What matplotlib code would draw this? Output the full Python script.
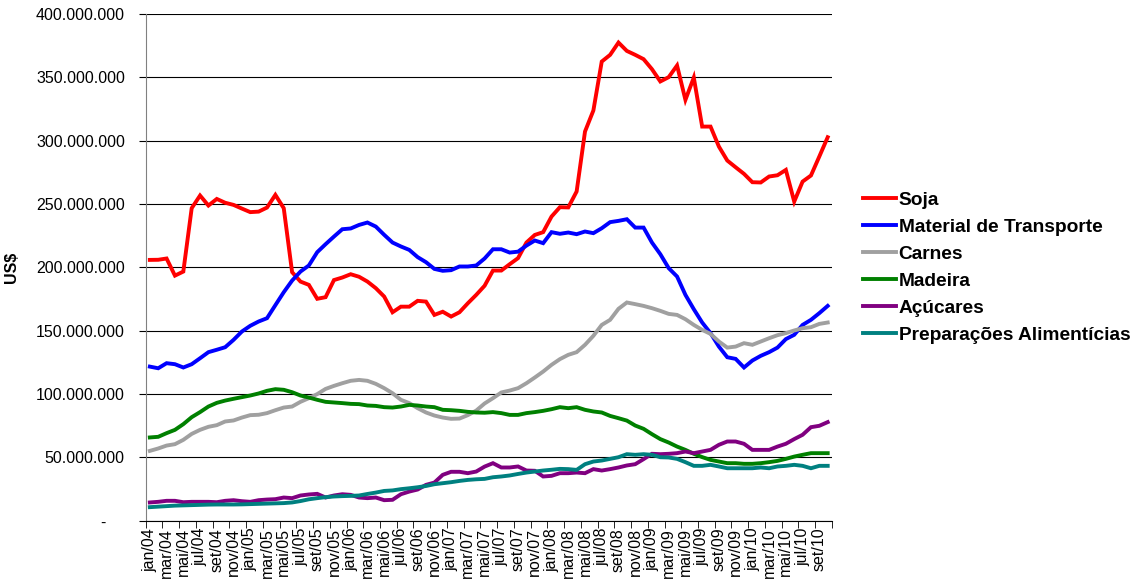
import matplotlib
matplotlib.use("Agg")
import matplotlib.pyplot as plt
from matplotlib.ticker import FuncFormatter, FixedLocator
import numpy as np

plt.rcParams['font.family'] = ['Liberation Sans', 'DejaVu Sans']

# meses jan/04 .. out/10
meses = ['jan', 'fev', 'mar', 'abr', 'mai', 'jun', 'jul', 'ago', 'set', 'out', 'nov', 'dez']
anos = ['04', '05', '06', '07', '08', '09', '10']
categorias = [m + '/' + a for a in anos for m in meses][:82]

# valores em milhoes de US$
soja = [205.9, 206.0, 207.0, 193.5, 196.7, 246.7, 256.7, 248.8, 254.0, 251.0,
        249.3, 246.4, 243.6, 244.0, 247.2, 257.2, 246.7, 196.2, 188.8, 186.2,
        175.2, 176.5, 190.0, 192.0, 194.6, 192.6, 188.8, 183.6, 177.0, 164.6,
        169.0, 169.0, 173.6, 173.0, 162.5, 165.0, 161.2, 164.6, 171.7, 178.3,
        185.5, 197.5, 197.5, 202.5, 207.3, 219.6, 225.6, 227.8, 240.1, 247.5,
        247.3, 259.9, 307.2, 323.8, 362.4, 367.7, 377.4, 370.8, 367.7, 364.3,
        356.4, 346.7, 350.1, 359.3, 332.2, 349.8, 311.1, 311.1, 295.3, 284.3,
        279.0, 273.8, 267.2, 267.0, 271.7, 272.7, 276.9, 251.9, 267.7, 272.5,
        287.5, 302.7]
transporte = [121.7, 120.4, 124.4, 123.6, 121.0, 123.6, 128.3, 133.1, 135.0, 137.0,
              142.8, 149.4, 153.9, 157.3, 159.9, 170.2, 180.4, 189.6, 196.7, 201.5,
              212.0, 218.3, 224.3, 230.1, 230.7, 233.5, 235.4, 232.2, 225.7, 219.6,
              216.5, 213.8, 208.1, 204.1, 198.8, 197.3, 197.8, 200.7, 200.7, 201.5,
              207.0, 214.3, 214.3, 211.7, 212.4, 217.2, 221.2, 219.1, 227.8, 226.5,
              227.5, 226.2, 228.3, 227.0, 230.9, 235.7, 236.7, 238.0, 231.4, 231.4,
              219.6, 210.4, 199.4, 192.8, 178.3, 167.0, 156.5, 148.1, 137.5, 129.1,
              127.8, 121.0, 126.5, 130.2, 133.1, 136.7, 143.4, 146.8, 154.6, 158.6,
              163.9, 169.6]
carnes = [55.2, 57.1, 59.4, 60.5, 63.9, 68.6, 71.8, 74.2, 75.5, 78.4,
          79.2, 81.5, 83.4, 83.7, 85.0, 87.3, 89.4, 90.2, 93.9, 96.8,
          100.0, 104.1, 106.5, 108.6, 110.5, 111.2, 110.5, 108.1, 104.7, 100.7,
          95.5, 92.9, 88.9, 85.5, 83.1, 81.5, 80.5, 80.7, 83.4, 87.0,
          92.6, 96.8, 101.3, 102.8, 104.7, 108.6, 113.1, 117.8, 123.1, 127.6,
          131.0, 133.1, 138.9, 146.0, 154.6, 158.6, 167.3, 172.3, 171.0, 169.6,
          167.8, 165.7, 163.3, 162.5, 159.1, 154.6, 150.7, 147.5, 141.5, 136.7,
          137.5, 140.2, 138.9, 141.5, 144.1, 146.5, 148.1, 150.2, 152.0, 152.8,
          155.4, 156.5]
madeira = [65.8, 66.3, 69.2, 71.8, 76.3, 81.8, 85.8, 90.2, 93.1, 94.9,
           96.3, 97.6, 98.9, 100.5, 102.6, 103.9, 103.4, 101.5, 98.9, 97.3,
           95.5, 93.9, 93.4, 92.9, 92.3, 92.1, 91.0, 90.7, 89.7, 89.4,
           90.2, 91.5, 91.0, 90.2, 89.7, 87.6, 87.3, 86.8, 86.0, 85.5,
           85.3, 85.8, 85.0, 83.6, 83.6, 85.0, 85.8, 86.8, 88.1, 89.7,
           88.9, 89.7, 87.6, 86.3, 85.5, 82.8, 81.0, 79.1, 75.2, 72.6,
           68.4, 64.5, 61.8, 58.6, 56.0, 52.9, 50.3, 48.1, 46.8, 45.5,
           45.5, 45.0, 45.0, 45.5, 46.3, 47.3, 48.9, 50.7, 52.1, 53.4,
           53.4, 53.4]
acucares = [14.5, 15.0, 15.8, 15.8, 14.7, 15.0, 15.0, 15.0, 14.7, 15.8,
            16.3, 15.5, 15.0, 16.3, 16.8, 17.1, 18.4, 17.9, 20.0, 20.8,
            21.3, 18.4, 20.0, 21.0, 20.5, 18.4, 17.9, 18.4, 16.3, 16.6,
            21.0, 23.1, 24.7, 28.4, 30.2, 36.3, 38.7, 38.7, 37.6, 38.9,
            42.8, 45.5, 42.1, 42.1, 42.9, 39.7, 39.5, 35.0, 35.5, 37.6,
            37.6, 38.1, 37.6, 40.8, 39.7, 40.8, 42.1, 43.7, 44.7, 48.7,
            52.9, 52.6, 52.9, 53.4, 54.7, 53.4, 54.7, 56.0, 60.0, 62.6,
            62.6, 60.8, 56.0, 56.0, 56.0, 58.6, 60.8, 64.5, 67.9, 73.9,
            75.0, 77.9]
preparacoes = [10.8, 11.2, 11.6, 12.0, 12.2, 12.4, 12.6, 12.8, 12.9, 12.9,
               12.9, 13.0, 13.2, 13.4, 13.6, 13.8, 14.0, 14.5, 15.6, 17.0,
               17.9, 18.7, 19.2, 19.5, 19.7, 20.0, 21.2, 22.3, 23.6, 24.0,
               25.0, 25.7, 26.5, 27.5, 28.9, 29.7, 30.5, 31.5, 32.3, 32.8,
               33.1, 34.4, 35.0, 35.8, 37.0, 38.1, 38.9, 39.7, 40.3, 41.0,
               40.8, 40.2, 44.7, 46.8, 47.6, 48.9, 50.2, 52.6, 52.1, 52.6,
               52.1, 50.2, 50.0, 48.9, 46.3, 43.4, 43.4, 44.2, 42.9, 41.5,
               41.5, 41.5, 41.5, 42.1, 41.5, 42.9, 43.4, 44.2, 43.4, 41.5,
               43.4, 43.4]

series = [
    ('Soja', soja, '#FF0000'),
    ('Material de Transporte', transporte, '#0000FF'),
    ('Carnes', carnes, '#A0A0A0'),
    ('Madeira', madeira, '#008000'),
    ('Açúcares', acucares, '#800080'),
    ('Preparações Alimentícias', preparacoes, '#008080'),
]

fig = plt.figure(figsize=(11.38, 5.8), dpi=100)
ax = fig.add_axes([0.128, 0.102, 0.603, 0.874])

x = np.arange(len(categorias))
for nome, vals, cor in series:
    ax.plot(x, np.array(vals) * 1e6, color=cor, lw=2.8, label=nome,
            solid_joinstyle='miter')

ax.set_xlim(-0.5, len(categorias) - 0.5)
ax.set_ylim(0, 400e6)
ax.set_yticks(np.arange(0, 400e6 + 1, 50e6))

def fmt(v, pos):
    if v == 0:
        return '-    '
    return '{:,.0f}'.format(v).replace(',', '.')

ax.yaxis.set_major_formatter(FuncFormatter(fmt))
ax.yaxis.grid(True, color='black', lw=0.8)
ax.set_axisbelow(True)

# rotulos a cada 2 meses, marcas entre categorias
ax.set_xticks(x[::2])
ax.set_xticklabels(categorias[::2], rotation=90)
ax.xaxis.set_minor_locator(FixedLocator(np.arange(-0.5, len(categorias), 2)))
ax.tick_params(axis='x', which='major', length=0, pad=5, labelsize=11.5)
ax.tick_params(axis='x', which='minor', length=5, direction='out', color='black')
ax.tick_params(axis='y', length=5, pad=10, direction='out', labelsize=11.5, color='black')

for s in ['top', 'right']:
    ax.spines[s].set_visible(False)
ax.spines['left'].set_color('#808080')
ax.spines['bottom'].set_color('black')

ax.set_ylabel('US$', fontsize=11.5, fontweight='bold', labelpad=12)

leg = ax.legend(loc='center left', bbox_to_anchor=(1.045, 0.5), frameon=False,
                prop={'weight': 'bold', 'size': 13.8}, handlelength=1.75,
                handletextpad=0.12, labelspacing=0.5, borderaxespad=0,
                borderpad=0)

fig.savefig('out.png', dpi=100)
